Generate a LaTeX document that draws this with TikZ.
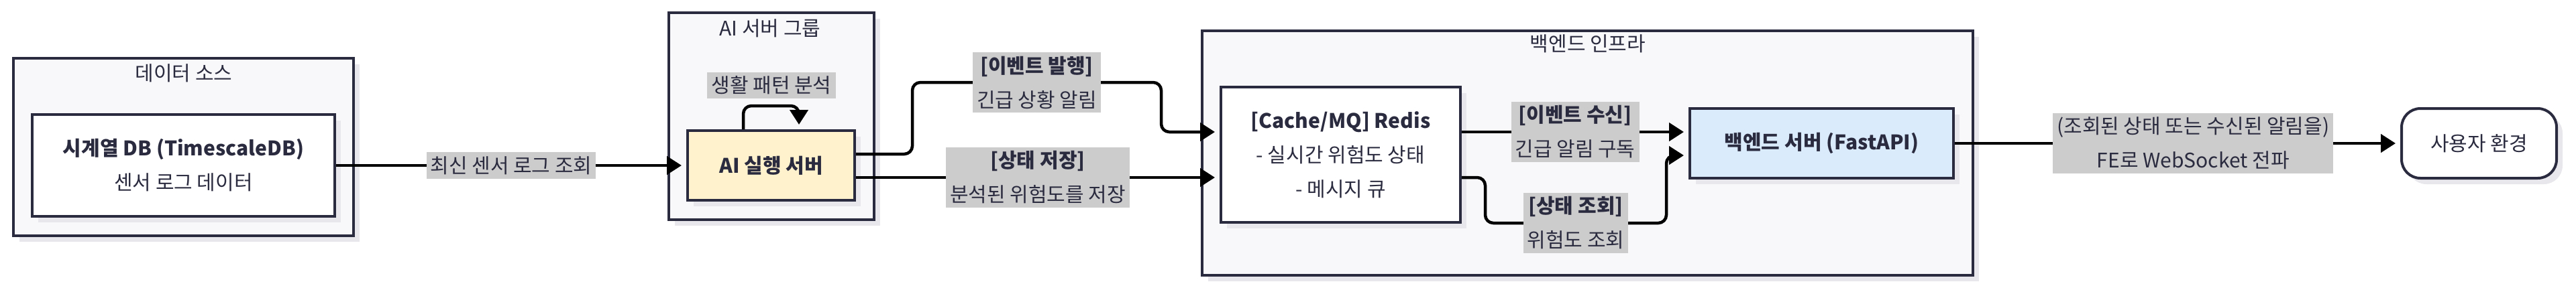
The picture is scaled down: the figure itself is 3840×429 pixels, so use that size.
\documentclass[tikz,border=0pt]{standalone}
\usepackage{fontspec}
\setmainfont{Noto Sans CJK KR}
\usetikzlibrary{arrows.meta,shadows,calc}
\definecolor{ink}{HTML}{2B2B40}
\definecolor{grpfill}{HTML}{F8F8FA}
\definecolor{lblfill}{HTML}{CCCCCC}
\definecolor{shadowc}{HTML}{E8E8EC}
\definecolor{aifill}{HTML}{FFF2CC}
\definecolor{srvfill}{HTML}{DAEBFC}
\begin{document}
\begin{tikzpicture}[x=1pt,y=-1pt,
  every node/.style={font=\fontsize{30}{51}\selectfont, text=ink},
  box/.style={draw=ink, line width=4pt, inner sep=0pt, align=center,
    drop shadow={shadow xshift=9pt,shadow yshift=-9pt,fill=shadowc,opacity=1}},
  grp/.style={box, fill=grpfill},
  proc/.style={box, fill=white},
  lbl/.style={sharp corners, fill=lblfill, inner xsep=6pt, inner ysep=6pt, align=center},
  title/.style={inner sep=0pt},
  conn/.style={draw=black, line width=4.5pt, rounded corners=12pt,
    -{Triangle[length=22pt,width=27pt]}, shorten >=7pt}
]
\useasboundingbox (0,0) rectangle (3840,429);

% groups
\node[grp, minimum width=507pt, minimum height=265pt] (src) at (273.5,219.5) {};
\node[title] (srct) at (274,109) {데이터 소스};
\node[grp, minimum width=306pt, minimum height=309pt] (aig) at (1150,173.5) {};
\node[title] (aigt) at (1148,42) {AI 서버 그룹};
\node[grp, minimum width=1149pt, minimum height=365pt] (be) at (2366.5,228.5) {};
\node[title] (bet) at (2367,65) {백엔드 인프라};

% process nodes
\node[proc, minimum width=451pt, minimum height=152pt] (db) at (273.5,247)
  {\textbf{시계열 DB (TimescaleDB)}\\센서 로그 데이터};
\node[box, fill=aifill, minimum width=249pt, minimum height=104pt] (ai) at (1149.5,247)
  {\textbf{AI 실행 서버}};
\node[proc, minimum width=357pt, minimum height=202pt] (redis) at (1998.5,231)
  {\textbf{[Cache/MQ] Redis}\\- 실시간 위험도 상태\\- 메시지 큐};
\node[box, fill=srvfill, minimum width=393pt, minimum height=104pt] (srv) at (2715.5,214)
  {\textbf{백엔드 서버 (FastAPI)}};
\node[proc, rounded corners=28pt, minimum width=231pt, minimum height=104pt] (user) at (3695.5,214)
  {사용자 환경};

% connectors
\draw[conn] (db.east) -- node[lbl] (l1) {최신 센서 로그 조회} (ai.west);

\draw[conn] ($(ai.north)+(-41.5,0)$) |- ($(ai.north)+(41.5,-35)$) -- (ai.north -| {$(ai.north)+(41.5,0)$});
\node[lbl] (l0) at (1150,127.5) {생활 패턴 분석};

\draw[conn] ($(ai.east)+(0,-17)$) -| (1360,123) -- node[lbl] (l2) {\textbf{[이벤트 발행]}\\긴급 상황 알림} (1731,123) |- ($(redis.west)+(0,-34)$);

\draw[conn] ($(ai.east)+(0,18)$) -- node[lbl] (l3) {\textbf{[상태 저장]}\\분석된 위험도를 저장} ($(redis.west)+(0,34)$);

\draw[conn] ($(redis.east)+(0,-34)$) -- node[lbl] (l4) {\textbf{[이벤트 수신]}\\긴급 알림 구독} ($(srv.west)+(0,-17)$);

\draw[conn] ($(redis.east)+(0,34)$) -| (2214,333) -- node[lbl] (l5) {\textbf{[상태 조회]}\\위험도 조회} (2484,333) |- ($(srv.west)+(0,18)$);

\draw[conn] (srv.east) -- node[lbl, pos=0.535] (l6) {(조회된 상태 또는 수신된 알림을)\\FE로 WebSocket 전파} (user.west);
\end{tikzpicture}
\end{document}
